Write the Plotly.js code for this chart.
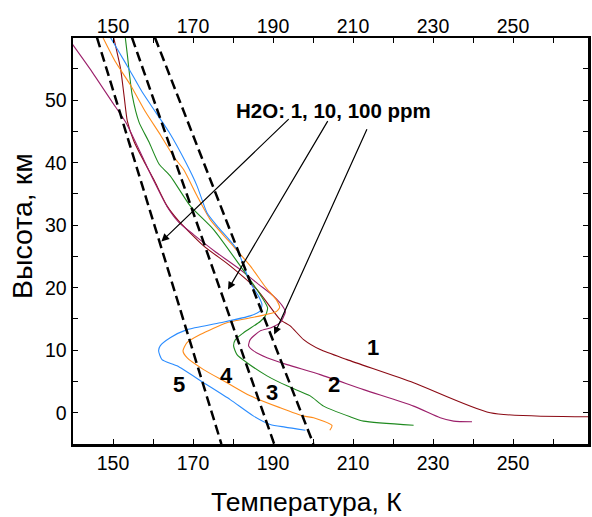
<!DOCTYPE html>
<html>
<head>
<meta charset="utf-8">
<script src="https://cdn.plot.ly/plotly-3.0.1.min.js"></script>
<style>html,body{margin:0;padding:0;background:#fff}#chart{width:592px;height:517px}</style>
</head>
<body>
<div id="chart"></div>
<script>
// Temperature profiles (K) vs altitude (km)
const t1 = [150.1,151.9,152.75,153.6,155.25,157.75,160.2,163.5,166.4,172.65,179.3,186,191.8,194.3,197.65,201.8,208.5,225.15,244.3,268.8];
const h1 = [60.2,55,50.8,46.6,43.4,40.2,37.3,33.1,30.7,26.7,23.5,19.7,14.9,13.9,11.7,10.1,8.5,4.8,0,-0.64];

const t2 = [139.8,144.8,149.8,153.15,157.75,160.2,163.5,166.4,170.15,175.5,181.8,186.5,190.15,192.65,193.1,192.6,191.8,189.5,186.8,184.3,183.9,185.15,188.5,193.5,201.8,212.65,225.15,231.8,235.15,239.75];
const h2 = [59,54.5,49.7,46.5,40.4,37.1,33,30.5,28.5,25.8,22.9,20.5,18.65,16.8,16.1,15.3,14.4,13.6,13.1,11.7,10.7,9.9,8.8,7.7,6.1,3.7,1.06,-0.8,-1.34,-1.44];

const t3 = [153,153.6,154.15,154.8,156.5,159,161.5,164.3,169.3,175.15,181.8,186.8,188.65,188.1,186.8,182.65,180.6,180.15,181,183.5,188.5,193.5,199.3,202.65,209.3,212.65,225.15];
const h3 = [60.4,57.2,54,50.8,46.5,43.3,39.8,37.9,33.1,29.3,23.5,18.9,16.8,15.5,14.6,12.8,11.7,10.7,9.3,8,5.9,4.3,2.7,1.06,-0.64,-1.34,-2.0];

const t4 = [147.5,150.65,154.4,158.15,161.9,165.25,167.65,171,174.3,179.3,184.3,188,191,191.65,190.6,186.8,178.5,171.8,168.5,167.5,168.5,172.65,178.5,184.3,191.8,197.65,200.15,204.75,204.2];
const h4 = [60,56.1,52.4,48.1,44.4,40.9,38.9,34.7,30.9,27.2,23.5,20.2,17.9,16.8,16.1,15.5,14.4,12.5,11.2,9.9,8.8,6.9,4.8,2.7,0.8,-0.54,-0.8,-2.05,-2.8];

const t5 = [149.4,151.5,154,157.3,160.65,164,168.15,171,173.5,176,181,184.3,186.4,187.25,186.8,184.3,176.8,168.5,164.3,161.8,161.4,162.25,166,172.65,179.3,185.15,189.3,193,198.1];
const h5 = [60,57.7,55,51.3,48.1,44.9,40.1,36.3,32,29.9,26.1,20.8,18.65,17.3,16.3,15.5,14.4,13.3,12,10.7,9.9,8.5,7.5,4.8,2.1,-0.54,-1.87,-2.3,-2.8];

// Dashed frost-point lines for H2O 1, 10, 100 ppm
const dashA_t = [146, 177.1], dashA_h = [60, -5];
const dashB_t = [154.75, 190.3], dashB_h = [60, -5];
const dashC_t = [160.5, 200.1], dashC_h = [60, -5];

const curveLabels = ["1","2","3","4","5"];
const labelT = [214.9, 205.15, 189.75, 178.25, 166.4];
const labelH = [10.4, 4.5, 3.2, 5.9, 4.5];

const noteText = "H2O: 1, 10, 100 ppm";
const noteT = 205.1, noteH = 48.3;
const arrowHeadT = [162.1, 178.75, 190.3];
const arrowHeadH = [27.4, 19.7, 12.5];
const arrowTailT = [194.3, 203.9, 213.65];
const arrowTailH = [47.2, 46.9, 45.6];

const xTitle = "Температура, К";
const yTitle = "Высота, км";

const FONT = "'Liberation Sans', Arial, sans-serif";
const colors = ["#8b0a14", "#9b1f6a", "#1f8a1f", "#ff8c1a", "#2a8cff"];

// plot area geometry (pixels)
const L = 73, R = 4, T = 38, B = 73, W = 592 - L - R, H = 517 - T - B;

const traces = [];
[[t1,h1],[t2,h2],[t3,h3],[t4,h4],[t5,h5]].forEach((d,i)=>{
  traces.push({x:d[0], y:d[1], mode:'lines', line:{color:colors[i], width:1.1, shape:'spline', smoothing:0.6}, hoverinfo:'skip', showlegend:false});
});
[[dashA_t,dashA_h],[dashB_t,dashB_h],[dashC_t,dashC_h]].forEach(d=>{
  traces.push({x:d[0], y:d[1], mode:'lines', line:{color:'#000', width:2.5, dash:'10px,5px'}, hoverinfo:'skip', showlegend:false});
});
traces.push({x:[150], y:[0], xaxis:'x2', mode:'markers', marker:{opacity:0}, hoverinfo:'skip', showlegend:false});

const annotations = [];
curveLabels.forEach((s,i)=>{
  annotations.push({x:labelT[i], y:labelH[i], xref:'x', yref:'y', text:'<b>'+s+'</b>', showarrow:false, font:{family:FONT, size:22, color:'#000'}});
});
annotations.push({x:noteT, y:noteH, xref:'x', yref:'y', text:'<b>'+noteText+'</b>', showarrow:false, font:{family:FONT, size:20.5, color:'#000'}});
for (let i=0;i<3;i++){
  annotations.push({x:arrowHeadT[i], y:arrowHeadH[i], ax:arrowTailT[i], ay:arrowTailH[i], xref:'x', yref:'y', axref:'x', ayref:'y', text:'', showarrow:true, arrowhead:2, arrowsize:1.3, arrowwidth:1.2, arrowcolor:'#000'});
}
annotations.push({x:(306-L)/W, y:-(502-(T+H))/H, xref:'paper', yref:'paper', xanchor:'center', yanchor:'middle', text:xTitle, showarrow:false, font:{family:FONT, size:26.5, color:'#000'}});
annotations.push({x:(22-L)/W, y:((T+H)-226)/H, xref:'paper', yref:'paper', xanchor:'center', yanchor:'middle', text:yTitle, textangle:-90, showarrow:false, font:{family:FONT, size:28.5, color:'#000'}});

const tickFont = {family:FONT, size:19.5, color:'#000'};
const layout = {
  width:592, height:517,
  margin:{l:L, r:R, t:T, b:B},
  paper_bgcolor:'#fff', plot_bgcolor:'#fff',
  showlegend:false,
  font:{family:FONT, color:'#000'},
  xaxis:{range:[140,268.75], tick0:150, dtick:20, ticks:'inside', ticklen:5, tickwidth:1, tickcolor:'#000',
    minor:{dtick:10, ticks:'inside', ticklen:5, tickcolor:'#000'},
    showline:true, linewidth:2.5, linecolor:'#000', mirror:true, showgrid:false, zeroline:false,
    tickfont:tickFont},
  xaxis2:{range:[140,268.75], overlaying:'x', side:'top', anchor:'y', tick0:150, dtick:20, ticks:'inside', ticklen:5, tickcolor:'#000',
    minor:{dtick:10, ticks:'inside', ticklen:5, tickcolor:'#000'},
    showline:false, showgrid:false, zeroline:false,
    tickfont:tickFont},
  yaxis:{range:[-5,59.95], tick0:0, dtick:10, ticks:'inside', ticklen:5, tickcolor:'#000',
    minor:{dtick:5, ticks:'inside', ticklen:5, tickcolor:'#000'},
    showline:true, linewidth:2.5, linecolor:'#000', mirror:'ticks', showgrid:false, zeroline:false,
    tickfont:tickFont},
  annotations:annotations
};

Plotly.newPlot('chart', traces, layout, {staticPlot:true});
</script>
</body>
</html>
